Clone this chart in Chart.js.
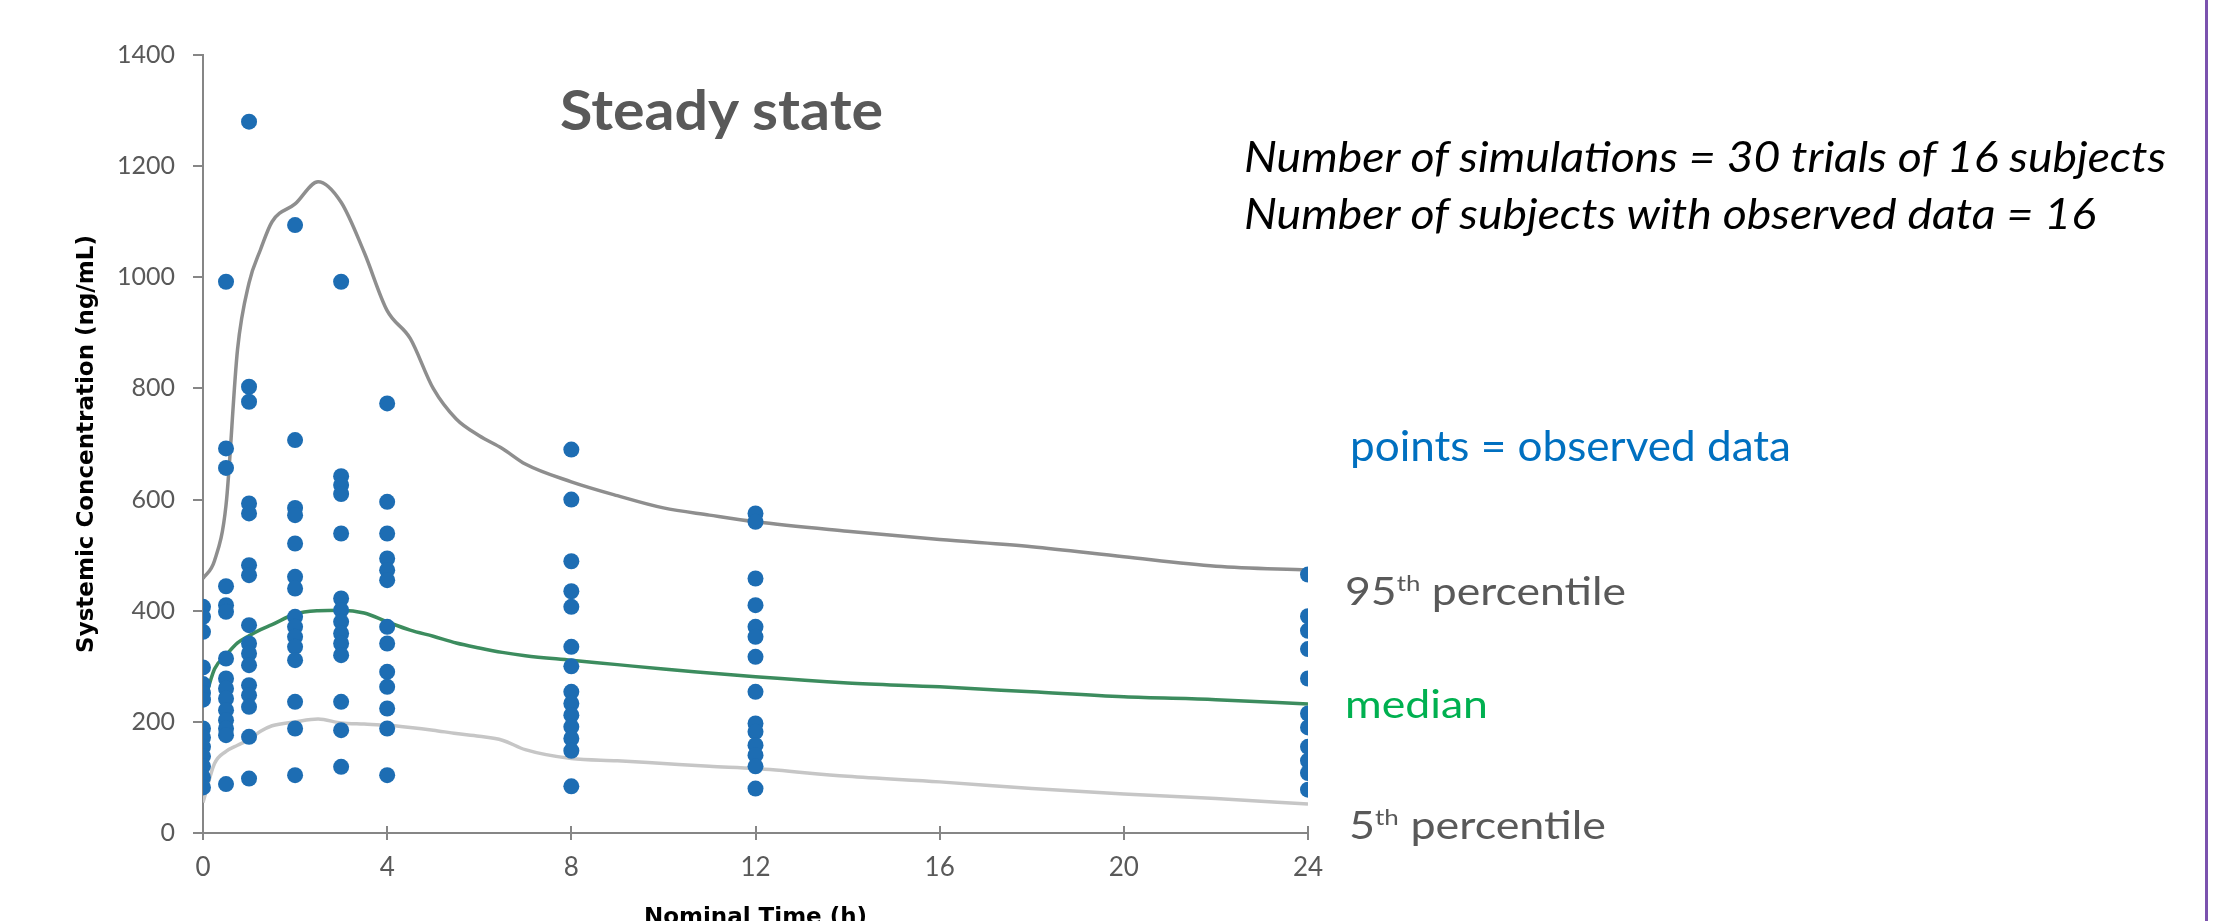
<!DOCTYPE html>
<html>
<head>
<meta charset="utf-8">
<script src="https://cdn.jsdelivr.net/npm/chart.js@4.4.1/dist/chart.umd.min.js"></script>
<style>
  html, body { margin: 0; padding: 0; background: #fff; }
  #wrap { position: relative; width: 2235px; height: 921px; overflow: hidden; }
  #canva { position: absolute; left: 0; top: 0; }
  .note { position: absolute; top: 0; white-space: nowrap; line-height: 1.2; transform-origin: 0 0; font-family: Lato, "Open Sans", sans-serif; }
  .note sup { font-size: 58%; vertical-align: 0.62em; line-height: 0; }
  #edge { position: absolute; left: 2205px; top: 0; width: 3px; height: 921px; background: #7b52ae; }
</style>
</head>
<body>
<div id="wrap">
  <canvas id="canva" width="2235" height="943"></canvas>
  <div id="edge"></div>
</div>
<script>
// observed sampling times (h) and the concentrations read at each one (ng/mL)
const obsTimes = [0, 0.5, 1, 2, 3, 4, 8, 12, 24];
const obsConc = [
    [407, 389, 362, 298, 268, 252, 240, 188, 172, 155, 138, 120, 100, 82],
    [992, 692, 657, 444, 410, 398, 314, 278, 260, 242, 221, 203, 188, 176, 88],
    [1280, 803, 776, 593, 575, 482, 464, 374, 341, 323, 302, 266, 248, 227, 173, 98],
    [1094, 707, 585, 572, 521, 461, 440, 389, 371, 353, 335, 311, 236, 188, 104],
    [992, 642, 626, 610, 539, 422, 401, 380, 359, 341, 320, 236, 185, 119],
    [773, 596, 539, 494, 473, 455, 371, 341, 290, 263, 224, 188, 104],
    [690, 600, 489, 435, 407, 335, 300, 254, 233, 212, 191, 170, 148, 84],
    [575, 560, 458, 410, 371, 353, 317, 254, 197, 182, 158, 140, 120, 80],
    [465, 390, 364, 331, 278, 215, 190, 155, 130, 108, 78]
];

// simulated profiles
const simTime = [0, 0.25, 0.5, 0.75, 1, 1.25, 1.5, 2, 2.5, 3, 3.5, 4, 4.5, 5, 5.5, 6, 6.5, 7, 8, 9, 10, 11, 12, 14, 16, 18, 20, 22, 24];
const p95 = [458, 490, 590, 870, 990, 1050, 1100, 1132, 1172, 1135, 1045, 940, 890, 800, 745, 715, 692, 664, 632, 607, 585, 572, 560, 543, 528, 515, 497, 480, 473];
const median = [227, 295, 320, 342, 355, 366, 375, 394, 400, 401, 396, 380, 365, 354, 342, 333, 325, 319, 311, 303, 295, 288, 281, 270, 263, 254, 245, 240, 232];
const p5 = [55, 125, 147, 158, 168, 183, 193, 200, 205, 198, 196, 194, 190, 185, 179, 174, 167, 150, 134, 130, 125, 120, 116, 102, 92, 80, 70, 62, 52];

const xTicks = [0, 4, 8, 12, 16, 20, 24];
const yTicks = [0, 200, 400, 600, 800, 1000, 1200, 1400];

let puntos = [];
obsTimes.forEach((t, i) => {
    obsConc[i].forEach(v => puntos.push({ x: t, y: v }));
});
const curva = (arr) => simTime.map((t, i) => ({ x: t, y: arr[i] }));

const axisGray = '#868686';
const tickGray = '#595959';

// little tick marks above the x axis (Excel draws them crossing the axis)
const crossTicks = {
    id: 'crossTicks',
    afterDatasetsDraw(chart) {
        const c = chart.ctx;
        const xs = chart.scales.x;
        const bottom = chart.chartArea.bottom;
        c.save();
        c.strokeStyle = axisGray;
        c.lineWidth = 2;
        xTicks.forEach(v => {
            const px = Math.round(xs.getPixelForValue(v));
            c.beginPath();
            c.moveTo(px, bottom - 7);
            c.lineTo(px, bottom);
            c.stroke();
        });
        c.restore();
    }
};

const ctx = document.getElementById("canva").getContext("2d");
const chart = new Chart(ctx, {
    type: 'scatter',
    data: {
        datasets: [{
            label: 'observed',
            data: puntos,
            pointRadius: 8,
            pointBackgroundColor: '#1d6db3',
            pointBorderWidth: 0,
            showLine: false,
            order: 0
        }, {
            label: '95th percentile',
            data: curva(p95),
            showLine: true,
            pointRadius: 0,
            borderColor: '#8e8e8e',
            borderWidth: 3.5,
            cubicInterpolationMode: 'monotone',
            order: 1
        }, {
            label: 'median',
            data: curva(median),
            showLine: true,
            pointRadius: 0,
            borderColor: '#3c8c5e',
            borderWidth: 3.5,
            cubicInterpolationMode: 'monotone',
            order: 2
        }, {
            label: '5th percentile',
            data: curva(p5),
            showLine: true,
            pointRadius: 0,
            borderColor: '#c6c6c6',
            borderWidth: 3.5,
            cubicInterpolationMode: 'monotone',
            order: 3
        }]
    },
    options: {
        responsive: false,
        animation: false,
        layout: { padding: { left: 60, top: 55, right: 927, bottom: 0 } },
        plugins: { legend: { display: false }, tooltip: { enabled: false } },
        scales: {
            x: {
                type: 'linear',
                min: 0,
                max: 24,
                afterBuildTicks: s => { s.ticks = xTicks.map(v => ({ value: v })); },
                afterFit: s => { s.height = 110; },
                ticks: { color: tickGray, font: { family: 'Lato', size: 26 }, padding: 12, maxRotation: 0, callback: v => String(v) },
                grid: { drawOnChartArea: false, tickLength: 7, tickColor: axisGray, lineWidth: 2 },
                border: { color: axisGray, width: 2 },
                title: {
                    display: true,
                    text: 'Nominal Time (h)',
                    color: '#000',
                    font: { family: 'DejaVu Sans', size: 23, weight: 'bold' },
                    padding: { top: 0, bottom: 11 }
                }
            },
            y: {
                min: 0,
                max: 1400,
                afterBuildTicks: s => { s.ticks = yTicks.map(v => ({ value: v })); },
                afterFit: s => { s.width = 143; },
                ticks: { color: tickGray, font: { family: 'Lato', size: 25 }, padding: 18, callback: v => String(v) },
                grid: { drawOnChartArea: false, tickLength: 10, tickColor: axisGray, lineWidth: 2 },
                border: { color: axisGray, width: 2 },
                title: {
                    display: true,
                    text: 'Systemic Concentration (ng/mL)',
                    color: '#000',
                    font: { family: 'DejaVu Sans', size: 23, weight: 'bold' },
                    padding: { top: 13, bottom: 0 }
                }
            }
        }
    },
    plugins: [crossTicks]
});

// text notes: left edge, baseline, target width
const wrap = document.getElementById("wrap");
function nota(html, x, base, ancho, size, estilo, color) {
    const d = document.createElement("div");
    d.className = "note";
    d.style.left = x + "px";
    d.style.fontSize = size + "px";
    d.style.color = color;
    if (estilo.includes("bold")) d.style.fontWeight = "bold";
    if (estilo.includes("italic")) d.style.fontStyle = "italic";
    d.innerHTML = html + '<span style="display:inline-block;width:0;height:0"></span>';
    wrap.appendChild(d);
    const marca = d.lastChild;
    d.style.top = (base - marca.offsetTop) + "px";
    const w = d.getBoundingClientRect().width;
    d.style.transform = `scaleX(${ancho / w})`;
}

nota("Steady state", 560, 130, 323, 56, "bold", "#595959");
nota("Number of simulations = 30 trials of 16 subjects", 1244, 172, 922, 42, "italic", "#000");
nota("Number of subjects with observed data = 16", 1244, 229, 852, 42, "italic", "#000");
nota("points = observed data", 1350, 461, 441, 43, "", "#0070c0");
nota("95<sup>th</sup> percentile", 1345, 605, 281, 38, "", "#595959");
nota("median", 1345, 718, 143, 38, "", "#00b050");
nota("5<sup>th</sup> percentile", 1349, 839, 257, 38, "", "#595959");
</script>
</body>
</html>
